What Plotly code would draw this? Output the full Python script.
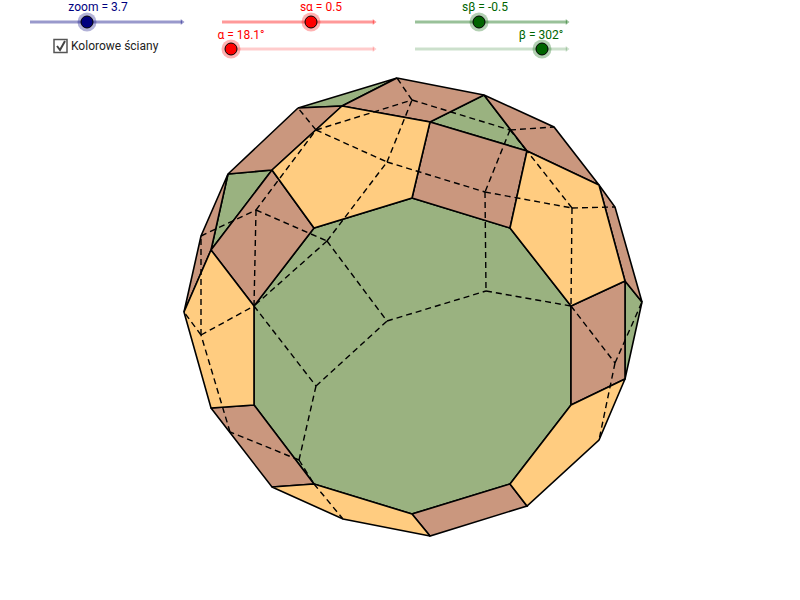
import plotly.graph_objects as go

# vertices of the solid (names are only labels)
vertex_names = ["A", "B", "C", "D", "E", "F", "G", "H", "I", "J", "K", "L", "M", "N", "O", "P", "Q",
                "d1", "d2", "d3", "d4", "d5", "d6", "d7", "d8", "d9", "d10",
                "u1", "u2", "u3", "u4", "u5", "u6", "u7",
                "h1", "h2", "h3", "h4", "h5", "h6", "h7", "h8", "h9", "h10", "h11", "h12", "h13", "h14", "h15"]
vertex_x = [397, 298, 228, 201, 184, 211, 272, 343, 430, 527, 599, 625, 642, 615, 599, 554, 484,
            412, 510, 571, 571, 510, 412, 314, 254, 254, 314,
            430, 527, 342, 272, 211, 625, 625,
            387, 486, 316, 256, 316, 387, 412, 510, 485, 572, 615, 327, 299, 201, 230]
vertex_y = [78, 108, 174, 236, 312, 408, 487, 519, 536, 506, 440, 379, 302, 207, 185, 127, 95,
            198, 228, 306, 405, 484, 514, 484, 405, 306, 228,
            122, 151, 106, 170, 250, 281, 379,
            321, 291, 386, 210, 130, 162, 100, 130, 192, 208, 363, 241, 460, 335, 432]

green_faces = [
    ["d1", "d2", "d3", "d4", "d5", "d6", "d7", "d8", "d9", "d10"],
    ["A", "B", "u3"],
    ["Q", "u2", "u1"],
    ["C", "u4", "u5"],
    ["u6", "M", "L"],
]
brown_faces = [
    ["d1", "d2", "u2", "u1"],
    ["u4", "d10", "d9", "u5"],
    ["B", "u3", "u4", "C"],
    ["A", "Q", "u1", "u3"],
    ["Q", "P", "O", "u2"],
    ["d3", "u6", "L", "d4"],
    ["O", "N", "M", "u6"],
    ["d5", "J", "I", "d6"],
    ["d8", "d7", "G", "F"],
    ["u5", "E", "D", "C"],
]
yellow_faces = [
    ["u3", "u1", "d1", "d10", "u4"],
    ["u2", "O", "u6", "d3", "d2"],
    ["d4", "L", "K", "J", "d5"],
    ["d6", "I", "H", "G", "d7"],
    ["d9", "d8", "F", "E", "u5"],
]

hidden_edges = [
    ("d9", "h3"), ("h3", "h1"), ("h1", "h2"), ("h2", "d3"), ("h3", "h13"), ("h13", "d7"),
    ("h13", "h15"), ("h15", "h14"), ("h14", "E"), ("h14", "D"), ("h14", "d9"),
    ("D", "h4"), ("h4", "d9"), ("h4", "h5"), ("h4", "h12"), ("h12", "h1"), ("h12", "d9"), ("h12", "h6"),
    ("h5", "B"), ("h5", "h7"), ("h5", "h6"), ("h6", "h7"), ("h6", "h9"), ("h7", "A"),
    ("h7", "h8"), ("h8", "P"), ("h8", "u2"), ("h8", "h9"), ("h9", "h2"), ("h9", "h10"),
    ("h10", "u2"), ("h10", "N"), ("h10", "d3"), ("d3", "h11"), ("h11", "M"), ("h11", "K"),
    ("d7", "H"),
]

# sliders: label, value on the track
slider_labels = ["zoom = 3.7", "s\u03b1 = 0.5", "\u03b1 = 18.1\u00b0", "s\u03b2 = -0.5", "\u03b2 = 302\u00b0"]
slider_label_x = [98, 321, 241, 485, 541]
slider_label_y = [8, 8, 36, 8, 36]
slider_start = [30, 222, 225, 415, 415]
slider_end = [182, 374, 374, 567, 567]
slider_y = [22, 22, 49, 22, 49]
slider_knob = [87, 311, 231, 479, 542]
slider_color = ["#00007f", "#ff0000", "#ff0000", "#006400", "#006400"]
slider_alpha = [0.4, 0.4, 0.2, 0.4, 0.2]

check_x = [57, 60, 65]
check_y = [46, 50, 41]

points = {n: (x, y) for n, x, y in zip(vertex_names, vertex_x, vertex_y)}


def rgba(color, alpha):
    r, g, b = int(color[1:3], 16), int(color[3:5], 16), int(color[5:7], 16)
    return f"rgba({r},{g},{b},{alpha})"


fig = go.Figure()

# faces, each colour in turn
for faces, color in [(green_faces, "#9AB280"), (brown_faces, "#CA977E"), (yellow_faces, "#FFCC80")]:
    for face in faces:
        xs = [points[n][0] for n in face] + [points[face[0]][0]]
        ys = [points[n][1] for n in face] + [points[face[0]][1]]
        fig.add_trace(go.Scatter(x=xs, y=ys, mode="lines", fill="toself", fillcolor=color,
                                 line=dict(color="black", width=1.6)))

# back edges
hx, hy = [], []
for a, b in hidden_edges:
    hx += [points[a][0], points[b][0], None]
    hy += [points[a][1], points[b][1], None]
fig.add_trace(go.Scatter(x=hx, y=hy, mode="lines", line=dict(color="black", width=1.4, dash="6px,4px")))

# sliders
for i in range(len(slider_labels)):
    track = rgba(slider_color[i], slider_alpha[i])
    fig.add_trace(go.Scatter(x=[slider_start[i], slider_end[i]], y=[slider_y[i]] * 2, mode="lines",
                             line=dict(color=track, width=3)))
    fig.add_trace(go.Scatter(x=[slider_end[i]], y=[slider_y[i]], mode="markers",
                             marker=dict(symbol="triangle-right", size=5, color=track, line=dict(width=0))))
    fig.add_trace(go.Scatter(x=[slider_knob[i]], y=[slider_y[i]], mode="markers",
                             marker=dict(size=19, color=rgba(slider_color[i], 0.3), line=dict(width=0))))
    fig.add_trace(go.Scatter(x=[slider_knob[i]], y=[slider_y[i]], mode="markers",
                             marker=dict(size=12, color=slider_color[i], line=dict(color="black", width=1))))
    fig.add_trace(go.Scatter(x=[slider_label_x[i]], y=[slider_label_y[i]], mode="text",
                             text=[slider_labels[i]], textposition="middle center", cliponaxis=False,
                             textfont=dict(family="Roboto", size=12, color=slider_color[i])))

# checkbox
fig.add_trace(go.Scatter(x=[60.5], y=[46], mode="markers",
                         marker=dict(symbol="square-open", size=13, color="#555555", line=dict(width=1.5))))
fig.add_trace(go.Scatter(x=check_x, y=check_y, mode="lines", line=dict(color="#444444", width=2)))
fig.add_trace(go.Scatter(x=[71], y=[47], mode="text", text=["Kolorowe \u015bciany"], textposition="middle right",
                         textfont=dict(family="Roboto", size=12, color="#222222")))

fig.update_traces(hoverinfo="skip")
fig.update_layout(
    width=800, height=600, showlegend=False,
    margin=dict(l=0, r=0, t=0, b=0),
    paper_bgcolor="white", plot_bgcolor="white",
    xaxis=dict(range=[0, 800], visible=False),
    yaxis=dict(range=[600, 0], visible=False),
)

# the page margin would push the picture 8px off
fig.write_html("out.html", config={"displayModeBar": False},
               post_script="document.body.style.margin='0';")
